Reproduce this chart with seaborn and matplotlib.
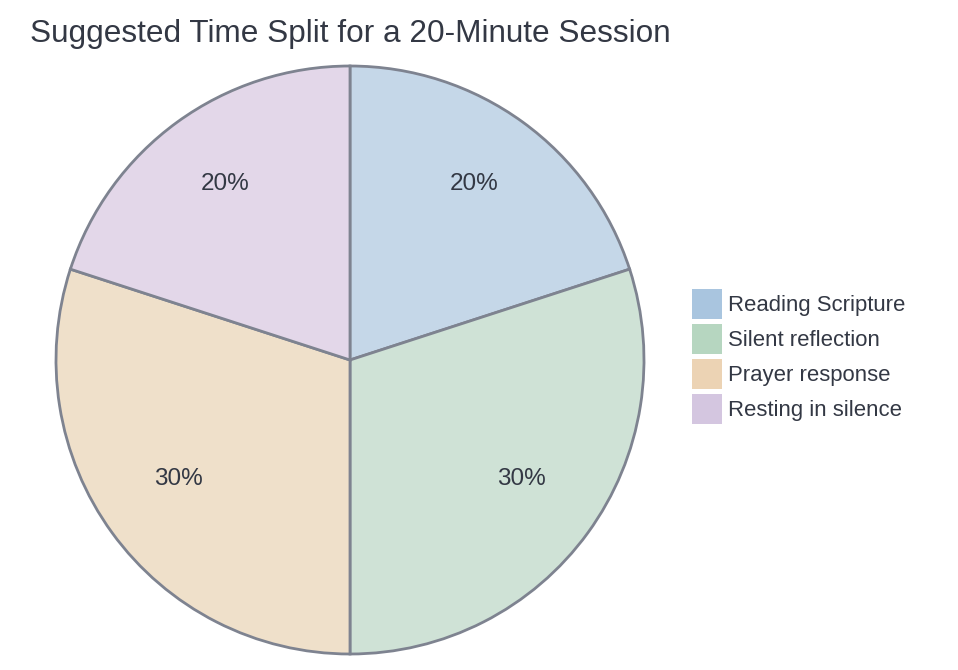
import matplotlib
matplotlib.use("Agg")
import matplotlib.pyplot as plt
import seaborn as sns
from matplotlib.patches import Patch

categories = ["Reading Scripture", "Silent reflection", "Prayer response", "Resting in silence"]
values = [20, 30, 30, 20]
pie_colors = ["#c5d7e8", "#cfe2d6", "#efe0ca", "#e3d7e9"]
legend_colors = ["#a9c5df", "#b6d6c0", "#ecd3b4", "#d4c6e0"]
title = "Suggested Time Split for a 20-Minute Session"

sns.set_theme(style="white")
plt.rcParams["font.family"] = ["Liberation Sans", "DejaVu Sans"]
text_color = "#333844"

fig = plt.figure(figsize=(9.58, 6.70), dpi=100)
ax = fig.add_axes([56/958, (310-294)/670, 588/958, 588/670])
wedges, texts, autotexts = ax.pie(
    values, colors=pie_colors, startangle=90, counterclock=False,
    autopct="%d%%", pctdistance=0.72,
    wedgeprops=dict(edgecolor="#7e8390", linewidth=2),
    textprops=dict(color=text_color, fontsize=17.5),
    radius=1.0,
)
for t in autotexts:
    x, y = t.get_position()
    t.set_position((x, y + 5/294))
ax.set_xlim(-1, 1)
ax.set_ylim(-1, 1)
ax.set_aspect("equal")
ax.axis("off")

fig.text(30/958, 1-34/670, title, fontsize=22.7, color=text_color, va="center", ha="left")

handles = [Patch(facecolor=c, edgecolor="none") for c in legend_colors]
leg = fig.legend(handles, categories, loc="upper left",
                 bbox_to_anchor=(692/958, 1-289/670), frameon=False,
                 fontsize=15.9, handlelength=1.36, handleheight=1.71,
                 handletextpad=0.27, labelspacing=0.23, borderpad=0, borderaxespad=0)
for t in leg.get_texts():
    t.set_color(text_color)

fig.savefig("out.png", dpi=100)
